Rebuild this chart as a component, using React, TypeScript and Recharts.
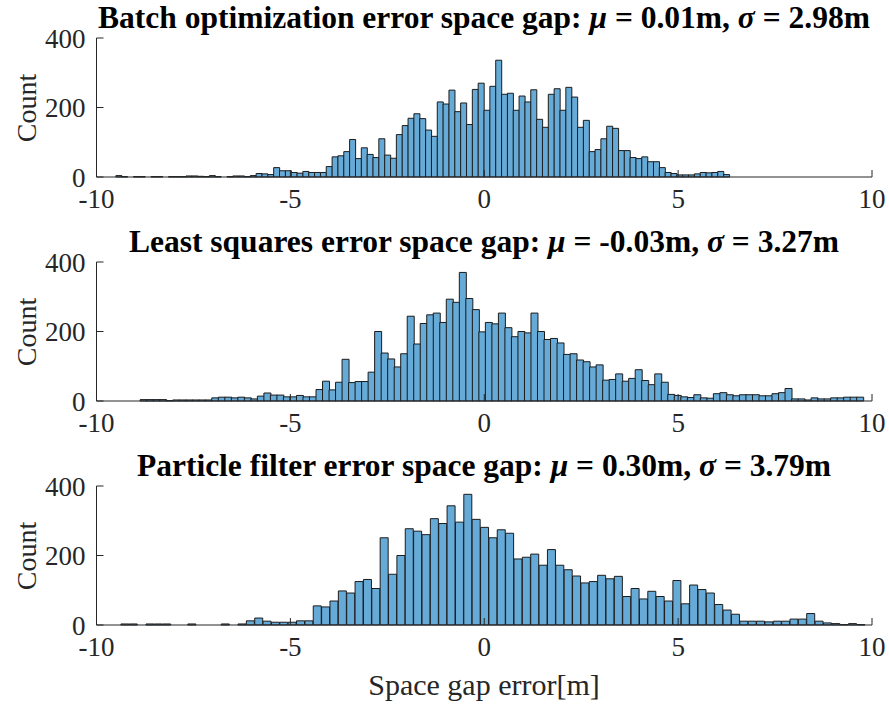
import React from "react";
import { Bar, BarChart, XAxis, YAxis } from "recharts";

const X_TICKS = [-10, -5, 0, 5, 10];
const Y_TICKS = [0, 200, 400];

const NAMES = ["Batch optimization", "Least squares", "Particle filter"];
const MU = ["0.01", "-0.03", "0.30"];
const SIGMA = ["2.98", "3.27", "3.79"];

// left edge of the first bin and bin width
const BATCH_START = -9.5;
const BATCH_WIDTH = 0.1507;
const BATCH_COUNTS = [
  4, 1, 0, 1, 1, 0, 1, 1, 0, 1, 1, 1, 3, 3, 2, 1, 4, 1, 0, 1,
  3, 3, 1, 4, 10, 9, 7, 27, 18, 18, 13, 11, 16, 13, 13, 13, 30, 58, 61, 73,
  108, 53, 84, 65, 56, 110, 63, 54, 122, 148, 169, 182, 168, 135, 117, 216, 210, 250, 188, 213,
  151, 252, 270, 192, 261, 336, 238, 241, 192, 233, 216, 251, 166, 143, 238, 254, 192, 258, 230, 143,
  163, 73, 79, 110, 146, 140, 76, 76, 56, 53, 58, 44, 44, 27, 13, 10, 6, 6, 6, 9,
  13, 12, 13, 16, 7,
];

const LS_START = -8.875;
const LS_WIDTH = 0.168;
const LS_COUNTS = [
  4, 4, 4, 4, 1, 3, 3, 3, 3, 3, 3, 9, 11, 11, 9, 11, 9, 6, 14, 23,
  17, 17, 12, 12, 16, 12, 12, 33, 57, 32, 54, 120, 53, 56, 56, 83, 200, 138, 121, 98,
  136, 244, 164, 223, 248, 253, 226, 293, 284, 370, 295, 263, 199, 226, 222, 253, 211, 185, 200, 196,
  253, 200, 177, 180, 167, 134, 136, 118, 113, 98, 104, 60, 62, 78, 57, 65, 90, 59, 47, 78,
  54, 19, 16, 12, 10, 18, 9, 8, 21, 24, 18, 15, 18, 18, 18, 15, 15, 21, 24, 36,
  6, 6, 3, 9, 6, 6, 9, 9, 11, 11, 11,
];

const PF_START = -9.371;
const PF_WIDTH = 0.2157;
const PF_COUNTS = [
  3, 3, 0, 3, 3, 3, 0, 0, 3, 0, 0, 0, 3, 0, 3, 12, 20, 11, 8, 8,
  8, 12, 12, 55, 52, 69, 98, 92, 125, 131, 105, 251, 146, 200, 277, 270, 260, 306, 292, 343,
  296, 376, 304, 281, 251, 274, 264, 190, 195, 204, 172, 217, 172, 159, 141, 121, 125, 143, 133, 140,
  82, 105, 75, 97, 82, 69, 128, 61, 115, 102, 92, 59, 43, 31, 11, 11, 11, 9, 11, 11,
  17, 17, 33, 11, 6, 4, 1, 4, 1,
];

const FONT = '"Liberation Serif", "Times New Roman", serif';
const AXIS = "#262626";
const FILL = "#66AAD7";

function toBins(start: number, width: number, counts: number[]) {
  return counts.map((count, i) => ({
    x: Number((start + (i + 0.5) * width).toFixed(4)),
    count,
  }));
}

const PANELS = [
  { top: 0, data: toBins(BATCH_START, BATCH_WIDTH, BATCH_COUNTS) },
  { top: 224, data: toBins(LS_START, LS_WIDTH, LS_COUNTS) },
  { top: 448, data: toBins(PF_START, PF_WIDTH, PF_COUNTS) },
];

type HistProps = {
  top: number;
  name: string;
  mu: string;
  sigma: string;
  data: { x: number; count: number }[];
};

function Histogram({ top, name, mu, sigma, data }: HistProps) {
  const tickFont = { fill: AXIS, fontSize: 27, fontFamily: FONT };
  return (
    <div style={{ position: "absolute", left: 0, top, width: 889, height: 215 }}>
      <BarChart
        width={889}
        height={215}
        data={data}
        margin={{ top: 38, right: 17, bottom: 0, left: 0 }}
        barCategoryGap={0}
        barGap={0}
      >
        <XAxis
          xAxisId="b"
          dataKey="x"
          type="number"
          domain={[-10, 10]}
          ticks={X_TICKS}
          height={38}
          stroke={AXIS}
          tickSize={-7}
          tickMargin={19}
          tick={tickFont}
          interval={0}
        />
        <XAxis
          xAxisId="t"
          orientation="top"
          dataKey="x"
          type="number"
          domain={[-10, 10]}
          ticks={X_TICKS}
          height={0}
          stroke={AXIS}
          tickSize={-7}
          tick={false}
        />
        <YAxis
          yAxisId="l"
          type="number"
          domain={[0, 400]}
          ticks={Y_TICKS}
          width={96.5}
          stroke={AXIS}
          tickSize={-7}
          tickMargin={18}
          tick={tickFont}
          interval={0}
        />
        <YAxis
          yAxisId="r"
          orientation="right"
          type="number"
          domain={[0, 400]}
          ticks={Y_TICKS}
          width={0}
          stroke={AXIS}
          tickSize={-7}
          tick={false}
        />
        <Bar
          xAxisId="b"
          yAxisId="l"
          dataKey="count"
          fill={FILL}
          stroke="#1c1c1c"
          strokeWidth={1}
          isAnimationActive={false}
        />
      </BarChart>
      <div
        style={{
          position: "absolute",
          left: 96,
          width: 776,
          top: -1,
          height: 38,
          lineHeight: "38px",
          textAlign: "center",
          fontFamily: FONT,
          fontWeight: "bold",
          fontSize: 31.5,
          color: "#000",
          whiteSpace: "nowrap",
        }}
      >
        {name} error space gap: <i>μ</i> = {mu}m, <i>σ</i> = {sigma}m
      </div>
      <div
        style={{
          position: "absolute",
          left: 27,
          top: 107.5,
          transform: "translate(-50%, -50%) rotate(-90deg)",
          fontFamily: FONT,
          fontSize: 28,
          color: AXIS,
          whiteSpace: "nowrap",
        }}
      >
        Count
      </div>
    </div>
  );
}

export default function App() {
  return (
    <div style={{ position: "absolute", left: 0, top: 0, width: 889, height: 708, background: "#fff" }}>
      {PANELS.map((p, i) => (
        <Histogram key={i} top={p.top} name={NAMES[i]} mu={MU[i]} sigma={SIGMA[i]} data={p.data} />
      ))}
      <div
        style={{
          position: "absolute",
          left: 96,
          width: 776,
          top: 668,
          textAlign: "center",
          fontFamily: FONT,
          fontSize: 30,
          color: AXIS,
          whiteSpace: "nowrap",
        }}
      >
        Space gap error[m]
      </div>
    </div>
  );
}
